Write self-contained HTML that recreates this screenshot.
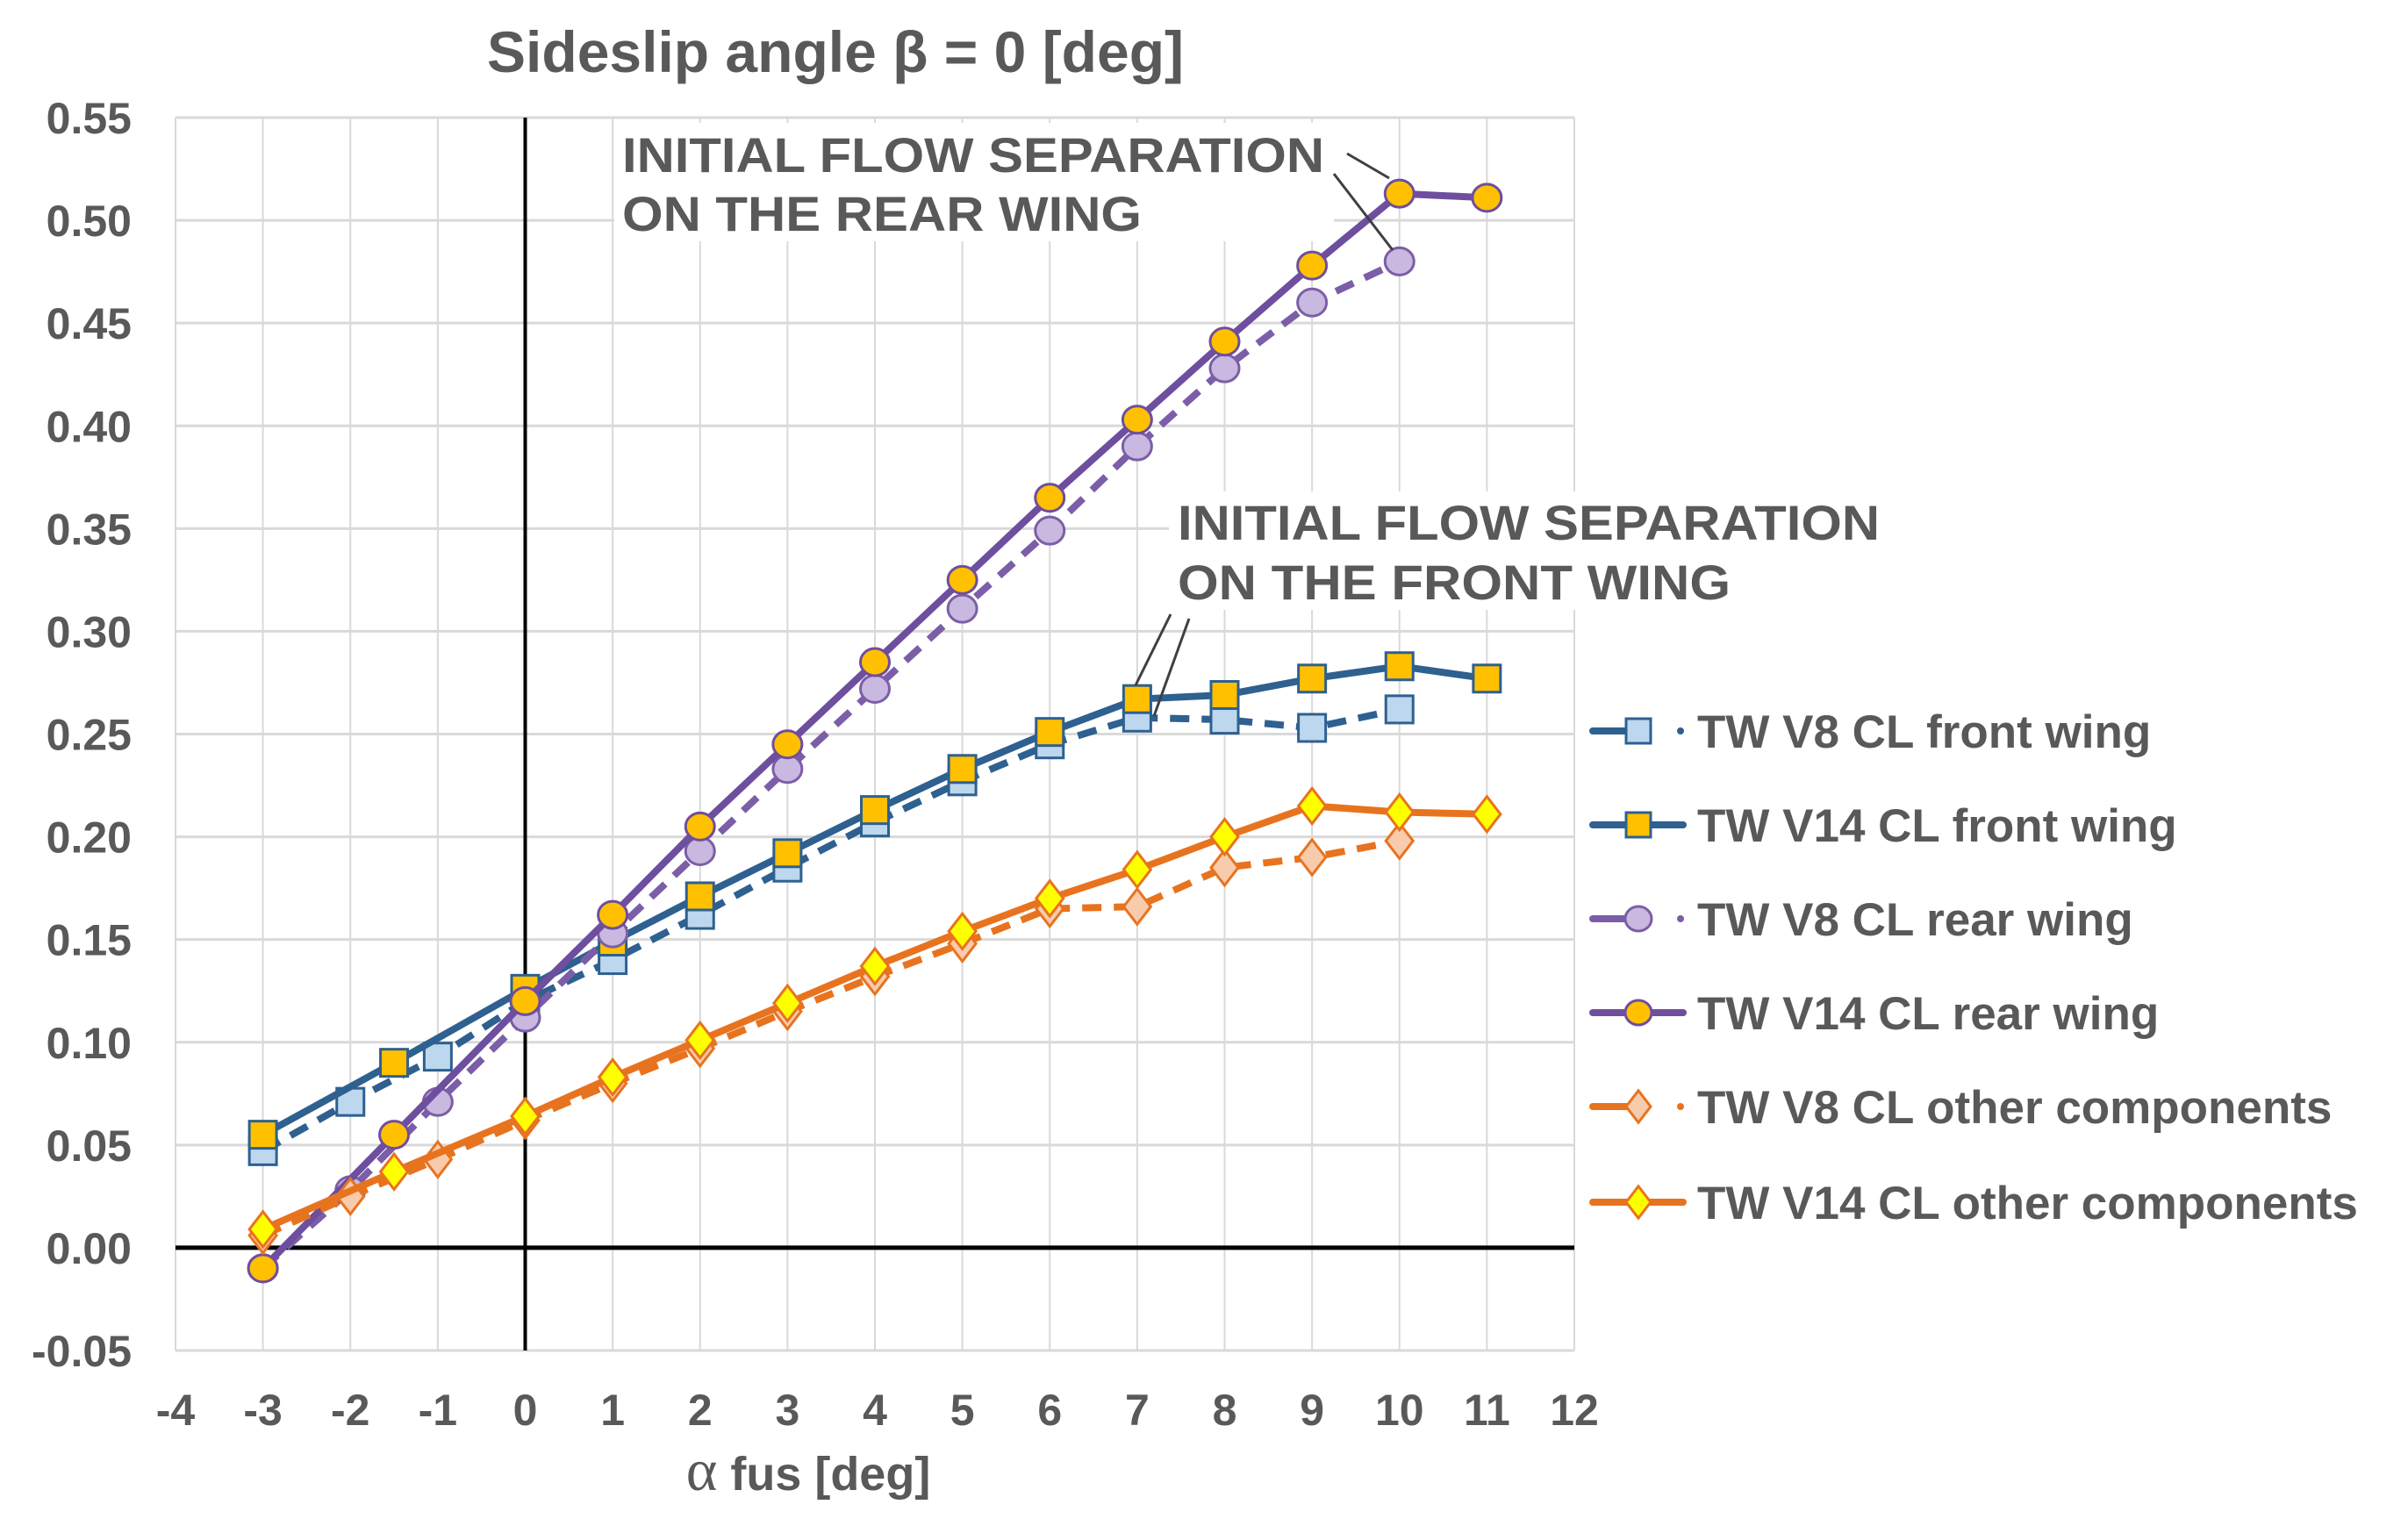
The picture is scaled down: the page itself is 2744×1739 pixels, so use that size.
<!DOCTYPE html>
<html><head><meta charset="utf-8"><style>
html,body{margin:0;padding:0;background:#fff;}
svg{display:block;font-family:"Liberation Sans",Arial,sans-serif;font-weight:bold;}
</style></head><body>
<svg id="chart" width="2744" height="1739" viewBox="0 0 2744 1739">
<rect width="2744" height="1739" fill="#fff"/>
<text x="952" y="82" font-size="66" fill="#595959" text-anchor="middle">Sideslip angle β = 0 [deg]</text>
<text x="921" y="1698" font-size="54" fill="#595959" text-anchor="middle"><tspan font-family="Liberation Serif,serif" font-size="68" font-weight="normal">α</tspan> fus [deg]</text>
<g id="grid"></g><g id="axes"></g><g id="series"></g><g id="annot"></g><g id="legend"></g>
</svg>
<script>
const NS="http://www.w3.org/2000/svg";
const xTicks=[-4,-3,-2,-1,0,1,2,3,4,5,6,7,8,9,10,11,12];
const yTicks=[-0.05,0,0.05,0.10,0.15,0.20,0.25,0.30,0.35,0.40,0.45,0.50,0.55];
const xV8=[-3,-2,-1,0,1,2,3,4,5,6,7,8,9,10];
const xV14=[-3,-1.5,0,1,2,3,4,5,6,7,8,9,10,11];
const v8Front=[0.047,0.071,0.093,0.120,0.140,0.162,0.185,0.207,0.227,0.245,0.258,0.257,0.253,0.262];
const v14Front=[0.055,0.090,0.126,0.149,0.171,0.192,0.213,0.233,0.251,0.267,0.269,0.277,0.283,0.277];
const v8Rear=[-0.010,0.028,0.071,0.112,0.153,0.193,0.233,0.272,0.311,0.349,0.390,0.428,0.460,0.480];
const v14Rear=[-0.010,0.055,0.120,0.162,0.205,0.245,0.285,0.325,0.365,0.403,0.441,0.478,0.513,0.511];
const v8Other=[0.006,0.025,0.043,0.062,0.080,0.097,0.115,0.132,0.148,0.165,0.166,0.185,0.190,0.198];
const v14Other=[0.009,0.037,0.064,0.083,0.101,0.119,0.137,0.154,0.170,0.184,0.200,0.215,0.212,0.211];
const legendLabels=["TW V8 CL front wing","TW V14 CL front wing","TW V8 CL rear wing","TW V14 CL rear wing","TW V8 CL other components","TW V14 CL other components"];

const X0=200,X1=1794,Y0=1539,Y1=134;
function sx(v){return X0+(v-(-4))/(16)*(X1-X0);}
function sy(v){return Y0-(v-(-0.05))/0.60*(Y0-Y1);}
function mk(tag,attrs,parent){const e=document.createElementNS(NS,tag);for(const k in attrs)e.setAttribute(k,attrs[k]);parent.appendChild(e);return e;}
const grid=document.getElementById('grid'),axes=document.getElementById('axes');
xTicks.forEach(t=>{
  const l=mk('line',{x1:sx(t),x2:sx(t),y1:Y1,y2:Y0,stroke:'#d9d9d9','stroke-width':2},grid);
  
  
  const tx=mk('text',{x:sx(t),y:1624,'font-size':50,fill:'#595959','text-anchor':'middle'},axes);
  tx.textContent=t;
  
  
});
yTicks.forEach(t=>{
  const l=mk('line',{x1:X0,x2:X1,y1:sy(t),y2:sy(t),stroke:'#d9d9d9','stroke-width':3},grid);
  
  
  const tx=mk('text',{x:150,y:sy(t)+18,'font-size':50,fill:'#595959','text-anchor':'end'},axes);
  tx.textContent=t.toFixed(2);
  
  
});
const za=mk('line',{x1:X0,x2:X1,y1:sy(0),y2:sy(0),stroke:'#000','stroke-width':5},axes);


const zb=mk('line',{x1:sx(0),x2:sx(0),y1:Y1,y2:Y0,stroke:'#000','stroke-width':4},axes);



const defs=[
 {name:'v8-front-wing',xs:xV8,ys:v8Front,c:'#2E6090',f:'#BDD7EE',m:'sq',d:true},
 {name:'v14-front-wing',xs:xV14,ys:v14Front,c:'#2E6090',f:'#FFC000',m:'sq',d:false},
 {name:'v8-rear-wing',xs:xV8,ys:v8Rear,c:'#7B5EA7',f:'#C9B8E0',m:'ci',d:true},
 {name:'v14-rear-wing',xs:xV14,ys:v14Rear,c:'#6E4E9E',f:'#FFC000',m:'ci',d:false},
 {name:'v8-other-components',xs:xV8,ys:v8Other,c:'#E8731F',f:'#F8CBAD',m:'di',d:true},
 {name:'v14-other-components',xs:xV14,ys:v14Other,c:'#E8731F',f:'#FFFF00',m:'di',d:false}
];
function marker(g,type,x,y,c,f,s){
  if(type==='sq')return mk('rect',{x:x-s/2,y:y-s/2,width:s,height:s,fill:f,stroke:c,'stroke-width':3},g);
  if(type==='ci')return mk('ellipse',{cx:x,cy:y,rx:s/2+1,ry:s/2,fill:f,stroke:c,'stroke-width':3},g);
  return mk('polygon',{points:`${x},${y-s*0.65} ${x+s*0.5},${y} ${x},${y+s*0.65} ${x-s*0.5},${y}`,fill:f,stroke:c,'stroke-width':3},g);
}
const sg=document.getElementById('series');
defs.forEach(s=>{
  const g=mk('g',{},sg);
  
  
  const pts=s.xs.map((x,i)=>sx(x)+','+sy(s.ys[i])).join(' ');
  const pl=mk('polyline',{points:pts,fill:'none',stroke:s.c,'stroke-width':8,'stroke-linejoin':'round','stroke-dasharray':s.d?'22 14':'none'},g);
  
  
  s.xs.forEach((x,i)=>{
    const m=marker(g,s.m,sx(x),sy(s.ys[i]),s.c,s.f,31);
    
    
  });
});
const an=document.getElementById('annot');
function txt(x,y,t,name,w){const e=mk('text',{x:x,y:y,'font-size':56,fill:'#595959',textLength:w,lengthAdjust:'spacingAndGlyphs'},an);e.textContent=t;return e;}
const bg1=mk('rect',{x:700,y:140,width:820,height:135,fill:'#fff'},an);


txt(709,196,'INITIAL FLOW SEPARATION','rear-annotation-line1',800);
txt(709,263,'ON THE REAR WING','rear-annotation-line2',592);
const bg2=mk('rect',{x:1332,y:560,width:820,height:135,fill:'#fff'},an);


txt(1342,615,'INITIAL FLOW SEPARATION','front-annotation-line1',800);
txt(1342,683,'ON THE FRONT WING','front-annotation-line2',630);
[[1535,175,1583,203],[1520,198,1587,285],[1334,700,1294,781],[1355,705,1315,816]].forEach(p=>{
  const l=mk('line',{x1:p[0],y1:p[1],x2:p[2],y2:p[3],stroke:'#404040','stroke-width':3},an);
  
  
});
const lg=document.getElementById('legend');
const ly=[833,940,1047,1154,1261,1370];
defs.forEach((s,i)=>{
  const g=mk('g',{},lg);
  
  
  if(s.d){
    mk('line',{x1:1815,x2:1870,y1:ly[i],y2:ly[i],stroke:s.c,'stroke-width':8,'stroke-linecap':'round'},g);
    mk('circle',{cx:1915,cy:ly[i],r:4,fill:s.c},g);
  } else {
    mk('line',{x1:1815,x2:1918,y1:ly[i],y2:ly[i],stroke:s.c,'stroke-width':8,'stroke-linecap':'round'},g);
  }
  marker(g,s.m,1867,ly[i],s.c,s.f,28);
  const t=mk('text',{x:1934,y:ly[i]+19,'font-size':53,fill:'#595959'},g);
  t.textContent=legendLabels[i];
});
</script>
</body></html>
